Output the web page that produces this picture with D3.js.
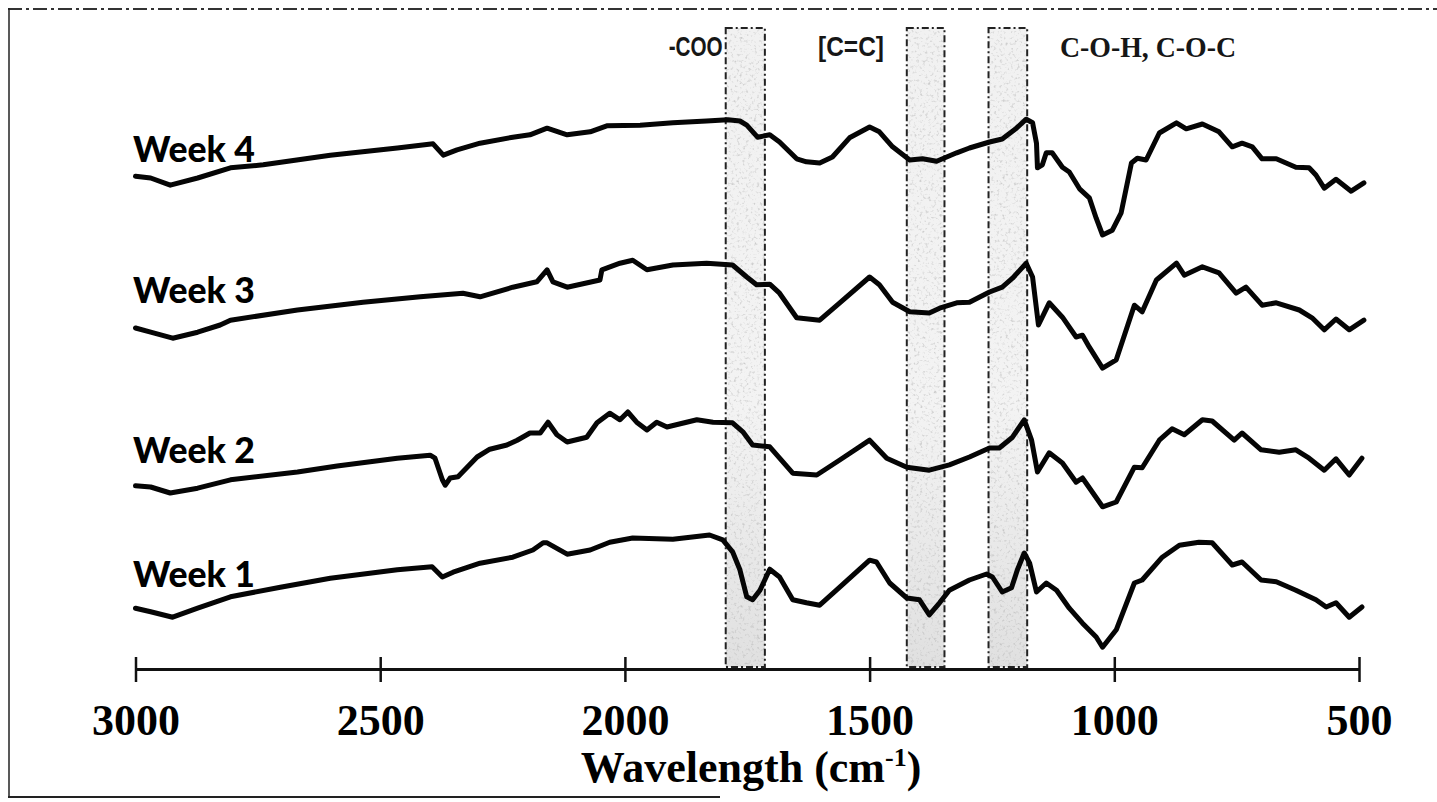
<!DOCTYPE html>
<html lang="en">
<head>
    <meta charset="UTF-8">
    <title>FTIR weeks</title>
    <script src="https://cdnjs.cloudflare.com/ajax/libs/d3/7.8.5/d3.min.js" charset="utf-8"></script>
    <style>
        body {
            margin: 0;
            background: #fff;
        }
        #chart {
            width: 1437px;
            height: 802px;
        }
        .week {
            font-family: Lato, 'Open Sans', sans-serif;
            font-weight: 900;
            font-size: 36px;
            fill: #000;
        }
        .band-label {
            font-family: 'Liberation Sans', Arial, sans-serif;
            font-weight: 700;
            font-size: 27px;
            fill: #161616;
        }
        .tick text {
            font-family: 'Liberation Serif', 'Times New Roman', serif;
            font-weight: 700;
            font-size: 44px;
            fill: #000;
        }
    </style>
</head>
<body>
    <div id="chart"></div>
    <script>
        // wavenumbers (cm-1) and transmittance (a.u.)
        const week4Wn = [3000,2969,2929,2873,2806,2739,2602,2465,2392,2371,2343,2296,2229,2194,2159,2118,2071,2037,1969,1902,1833,1790,1765,1751,1729,1704,1684,1649,1629,1602,1576,1541,1500,1480,1453,1418,1392,1363,1322,1296,1255,1229,1200,1180,1167,1159,1157,1147,1139,1127,1106,1092,1071,1051,1037,1024,1004,986,965,953,935,908,873,853,820,786,759,739,718,698,669,629,602,588,571,547,516,490];
        const week4T = [81.8,81.5,80.3,81.5,83.2,83.7,85.3,86.5,87.2,85.3,86.2,87.3,88.3,88.7,89.8,88.7,89.2,90.2,90.3,90.7,91.0,91.2,91.0,90.3,88.3,88.7,87.5,84.7,84.2,84.0,85.0,88.2,90.0,89.2,86.7,84.5,84.7,84.3,85.7,86.5,87.5,88.0,89.8,91.3,90.7,87.3,83.2,83.7,85.7,85.7,83.3,82.5,79.7,78.2,74.8,72.0,72.8,75.7,84.0,84.8,84.5,89.0,90.7,89.7,90.5,89.2,86.7,87.3,86.7,84.7,84.7,83.3,83.2,82.0,79.8,81.3,79.3,80.7];

        const week3Wn = [3000,2969,2924,2873,2827,2806,2669,2535,2418,2331,2296,2229,2180,2159,2147,2118,2051,2047,2010,1984,1955,1902,1833,1780,1751,1731,1704,1684,1649,1602,1561,1500,1480,1453,1418,1378,1357,1322,1296,1255,1229,1208,1180,1167,1155,1133,1106,1078,1065,1051,1024,996,959,943,914,873,857,820,786,751,731,698,669,622,596,571,547,520,490];
        const week3T = [56.5,55.8,54.8,55.8,57.0,57.8,59.5,60.8,61.7,62.3,61.7,63.3,64.2,66.2,64.2,63.3,64.5,66.2,67.3,67.8,66.2,67.0,67.3,67.0,65.0,63.7,63.8,62.3,58.2,57.8,60.7,65.0,63.7,60.8,59.2,59.0,59.8,60.7,60.8,62.5,63.3,64.8,67.3,65.0,57.0,60.7,58.3,55.0,55.3,53.3,49.8,51.2,60.3,59.2,64.5,67.3,65.3,66.7,65.7,62.3,63.3,60.3,60.7,59.5,58.2,56.2,58.0,56.2,57.8];

        const week2Wn = [3000,2969,2929,2873,2806,2669,2588,2465,2398,2388,2373,2367,2357,2341,2302,2276,2241,2220,2194,2173,2157,2139,2118,2078,2057,2031,2010,1994,1976,1955,1935,1914,1853,1820,1780,1759,1739,1704,1657,1608,1561,1500,1465,1424,1378,1337,1296,1255,1235,1208,1184,1169,1157,1133,1106,1078,1065,1024,996,959,943,908,882,857,820,800,755,739,700,663,629,602,571,547,520,494];
        const week2T = [30.2,30.0,29.0,29.8,31.2,32.5,33.5,34.8,35.3,34.8,31.2,30.3,31.5,31.7,35.0,36.3,37.0,37.8,39.0,39.0,40.8,38.7,37.5,38.3,40.7,42.3,41.2,42.5,40.8,39.5,40.8,40.0,41.2,40.8,40.7,39.2,37.0,36.7,32.3,32.0,34.5,37.8,34.8,33.3,32.8,33.7,35.0,36.5,36.5,38.3,41.2,37.8,32.5,35.7,34.0,30.8,31.5,26.7,27.5,33.3,33.2,37.8,39.7,38.7,41.2,41.0,37.8,39.0,36.2,35.8,36.2,34.8,32.8,34.7,32.0,34.8];

        const week1Wn = [3000,2969,2924,2873,2806,2704,2602,2465,2394,2373,2351,2296,2229,2188,2167,2159,2118,2071,2031,1984,1902,1827,1800,1780,1765,1751,1739,1724,1704,1684,1657,1629,1602,1561,1500,1486,1459,1424,1398,1378,1357,1337,1296,1261,1249,1229,1210,1198,1184,1173,1159,1139,1118,1092,1065,1037,1024,996,959,943,902,867,827,800,759,739,700,669,629,588,567,547,520,494];
        const week1T = [9.8,9.2,8.3,9.8,11.7,13.3,14.8,16.2,16.7,15.0,15.8,17.3,18.3,19.5,20.7,20.7,18.8,19.5,20.8,21.5,21.3,22.0,21.2,19.2,16.2,11.7,11.2,12.8,16.3,15.0,11.2,10.7,10.3,13.3,17.8,17.5,14.0,11.5,11.2,8.7,10.7,12.8,14.5,15.5,15.0,12.5,13.2,16.2,19.0,17.3,12.5,14.0,12.8,9.8,7.3,5.0,3.3,6.2,14.0,14.5,18.3,20.3,20.8,20.7,17.0,17.5,14.5,14.2,12.8,11.2,10.0,10.7,8.3,10.0];

        const weekNames = ['Week 4', 'Week 3', 'Week 2', 'Week 1'];
        const weekLabelT = [84.2, 60.7, 34.0, 13.3];

        // absorption bands [from, to] in cm-1 and their labels
        const bandRanges = [[1794, 1714], [1424, 1347], [1257, 1178]];
        const bandNames = ['-COO', '[C=C]', 'C-O-H, C-O-C'];

        const xTicks = [3000, 2500, 2000, 1500, 1000, 500];

        const width = 1437;
        const height = 802;

        let svg = d3.select('#chart')
            .append('svg')
            .attr('width', width)
            .attr('height', height);

        let x = d3.scaleLinear()
            .domain([3000, 500])
            .range([135.5, 1359]);

        let y = d3.scaleLinear()
            .domain([0, 100])
            .range([667, 67]);

        // frame round the figure
        svg.append('line')
            .attr('x1', 8).attr('x2', width).attr('y1', 9).attr('y2', 9)
            .attr('stroke', '#333').attr('stroke-width', 1.8)
            .attr('stroke-dasharray', '14,4,3,4');
        svg.append('line')
            .attr('x1', 9).attr('x2', 9).attr('y1', 8).attr('y2', 797)
            .attr('stroke', '#222').attr('stroke-width', 1.5);
        svg.append('line')
            .attr('x1', 8).attr('x2', 720).attr('y1', 797).attr('y2', 797)
            .attr('stroke', '#222').attr('stroke-width', 2);

        // shaded bands: pale fill plus grey speckle
        let defs = svg.append('defs');
        let grad = defs.append('linearGradient')
            .attr('id', 'bandFill')
            .attr('x1', 0).attr('x2', 0).attr('y1', 0).attr('y2', 1);
        grad.append('stop').attr('offset', '0%').attr('stop-color', '#f1f1f1');
        grad.append('stop').attr('offset', '60%').attr('stop-color', '#f3f3f3');
        grad.append('stop').attr('offset', '100%').attr('stop-color', '#e0e0e0');

        let speckle = defs.append('filter')
            .attr('id', 'speckle')
            .attr('x', 0).attr('y', 0).attr('width', 1).attr('height', 1);
        speckle.append('feTurbulence')
            .attr('type', 'fractalNoise')
            .attr('baseFrequency', 0.35)
            .attr('numOctaves', 2)
            .attr('seed', 7)
            .attr('result', 'noise');
        speckle.append('feColorMatrix')
            .attr('in', 'noise')
            .attr('type', 'matrix')
            .attr('values', '0 0 0 0 0.35  0 0 0 0 0.35  0 0 0 0 0.35  3.2 0 0 0 -1.75')
            .attr('result', 'dots');
        speckle.append('feComposite')
            .attr('in', 'dots')
            .attr('in2', 'SourceGraphic')
            .attr('operator', 'in');

        let bands = svg.append('g');
        bands.selectAll('rect.fill')
            .data(bandRanges)
            .enter()
            .append('rect')
            .attr('class', 'fill')
            .attr('x', d => x(d[0]))
            .attr('width', d => x(d[1]) - x(d[0]))
            .attr('y', 28)
            .attr('height', y(0) - 28)
            .attr('fill', 'url(#bandFill)');
        bands.selectAll('rect.noise')
            .data(bandRanges)
            .enter()
            .append('rect')
            .attr('class', 'noise')
            .attr('x', d => x(d[0]))
            .attr('width', d => x(d[1]) - x(d[0]))
            .attr('y', 28)
            .attr('height', y(0) - 28)
            .attr('fill', '#000')
            .attr('opacity', 0.45)
            .attr('filter', 'url(#speckle)');
        bands.selectAll('rect.edge')
            .data(bandRanges)
            .enter()
            .append('rect')
            .attr('class', 'edge')
            .attr('x', d => x(d[0]))
            .attr('width', d => x(d[1]) - x(d[0]))
            .attr('y', 28)
            .attr('height', y(0) - 28)
            .attr('fill', 'none')
            .attr('stroke', '#222')
            .attr('stroke-width', 2)
            .attr('stroke-dasharray', '7,3,2,3');

        // band labels
        svg.append('text').attr('class', 'band-label')
            .attr('x', x(bandRanges[0][0]) - 3).attr('y', 56)
            .attr('text-anchor', 'end')
            .attr('textLength', 54).attr('lengthAdjust', 'spacingAndGlyphs')
            .text(bandNames[0]);
        svg.append('text').attr('class', 'band-label')
            .attr('x', 851).attr('y', 56)
            .attr('text-anchor', 'middle')
            .attr('textLength', 66).attr('lengthAdjust', 'spacingAndGlyphs')
            .text(bandNames[1]);
        svg.append('text').attr('class', 'band-label')
            .attr('x', 1060).attr('y', 57)
            .style('font-family', "'Liberation Serif', serif")
            .style('font-size', '30px')
            .attr('textLength', 176).attr('lengthAdjust', 'spacingAndGlyphs')
            .text(bandNames[2]);

        // spectra
        const series = [
            {wn: week4Wn, t: week4T},
            {wn: week3Wn, t: week3T},
            {wn: week2Wn, t: week2T},
            {wn: week1Wn, t: week1T}
        ];

        let line = d3.line()
            .x(d => x(d[0]))
            .y(d => y(d[1]));

        svg.append('g')
            .selectAll('path')
            .data(series)
            .enter()
            .append('path')
            .attr('d', s => line(s.wn.map((w, i) => [w, s.t[i]])))
            .attr('fill', 'none')
            .attr('stroke', '#050505')
            .attr('stroke-width', 5)
            .attr('stroke-linejoin', 'round')
            .attr('stroke-linecap', 'round');

        // week labels
        svg.append('g')
            .selectAll('text')
            .data(weekNames)
            .enter()
            .append('text')
            .attr('class', 'week')
            .attr('x', 133)
            .attr('y', (d, i) => y(weekLabelT[i]))
            .attr('textLength', 122)
            .attr('lengthAdjust', 'spacingAndGlyphs')
            .text(d => d);

        // x axis: ticks cross the line
        let axisY = 669;
        let gx = svg.append('g')
            .attr('transform', 'translate(0,' + axisY + ')')
            .call(d3.axisBottom(x)
                .tickValues(xTicks)
                .tickFormat(d3.format('d'))
                .tickSizeInner(13)
                .tickSizeOuter(0)
                .tickPadding(22));
        gx.select('.domain').attr('stroke', '#111').attr('stroke-width', 3);
        gx.selectAll('.tick line').attr('stroke', '#111').attr('stroke-width', 2.5);

        let gxTop = svg.append('g')
            .attr('transform', 'translate(0,' + axisY + ')')
            .call(d3.axisTop(x)
                .tickValues(xTicks)
                .tickFormat('')
                .tickSizeInner(12)
                .tickSizeOuter(0));
        gxTop.select('.domain').remove();
        gxTop.selectAll('.tick line').attr('stroke', '#111').attr('stroke-width', 2.5);

        // axis title
        let title = svg.append('text')
            .attr('x', 751)
            .attr('y', 782)
            .attr('text-anchor', 'middle')
            .style('font-family', "'Liberation Serif', 'Times New Roman', serif")
            .style('font-weight', 700)
            .style('font-size', '44px')
            .attr('fill', '#000');
        title.append('tspan').text('Wavelength (cm');
        title.append('tspan').attr('dy', -16).style('font-size', '26px').text('-1');
        title.append('tspan').attr('dy', 16).text(')');
    </script>
</body>
</html>
